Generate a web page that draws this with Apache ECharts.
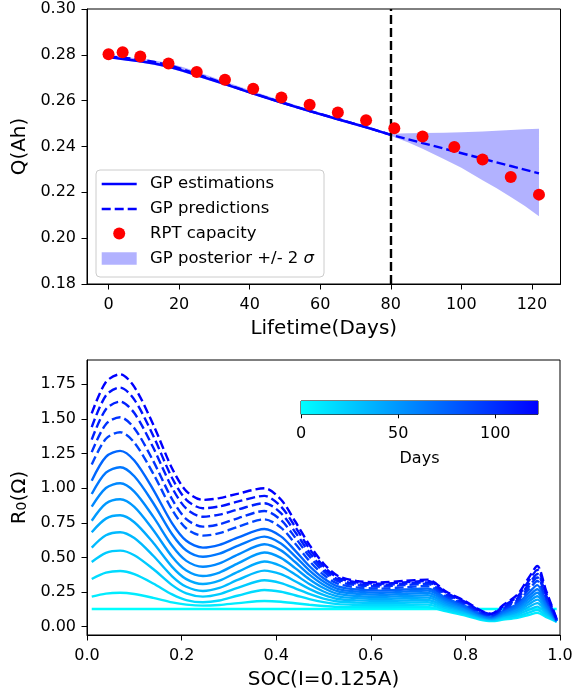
<!DOCTYPE html>
<html><head><meta charset="utf-8">
<script src="https://cdn.jsdelivr.net/npm/echarts@6/dist/echarts.min.js"></script>
<style>html,body{margin:0;padding:0;background:#fff}#c{width:576px;height:693px}</style>
</head><body><div id="c"></div>
<script>
// ---------- top panel: capacity ----------
const rptDays = [0,4,9,17,25,33,41,49,57,65,73,81,89,98,106,114,122];
const rptCap  = [0.2803,0.2811,0.2793,0.2762,0.2725,0.2691,0.2652,0.2614,0.2582,0.2548,0.2515,0.2480,0.2444,0.2398,0.2343,0.2267,0.2190];
const estDays = [0,4,9,13,17,21,25,33,41,49,57,65,73,80];
const estCap  = [0.2790,0.2782,0.2772,0.2762,0.2749,0.2731,0.2712,0.2672,0.2631,0.2592,0.2554,0.2519,0.2484,0.2451];
const predDays = [0,4,9,13,17,21,25,33,41,49,57,65,73,80,89,98,106,114,122];
const predCap  = [0.2793,0.2788,0.2780,0.2769,0.2756,0.2737,0.2716,0.2674,0.2632,0.2593,0.2555,0.2520,0.2485,0.2451,0.2415,0.2379,0.2347,0.2315,0.2283];
const bandDays = [0,4,9,13,17,21,25,33,41,49,57,65,73,80,85,89,95,100,106,110,114,118,122];
const bandLow  = [0.2786,0.2778,0.2767,0.2756,0.2743,0.2725,0.2706,0.2666,0.2626,0.2587,0.2549,0.2514,0.2479,0.2447,0.2418,0.2390,0.2346,0.2307,0.2253,0.2218,0.2180,0.2140,0.2096];
const bandHigh = [0.2797,0.2791,0.2784,0.2775,0.2764,0.2747,0.2727,0.2684,0.2641,0.2601,0.2562,0.2526,0.2490,0.2456,0.2458,0.2459,0.2460,0.2462,0.2466,0.2469,0.2472,0.2475,0.2478];
const splitDay = 80;
const topXTicks = [0,20,40,60,80,100,120];
const topYTicks = [0.18,0.20,0.22,0.24,0.26,0.28,0.30];
const legendLabels = ['GP estimations','GP predictions','RPT capacity','GP posterior +/- 2 '];
const legendSigma = 'σ';

// ---------- bottom panel: R0 vs SOC ----------
const soc = [0.01,0.04,0.07,0.10,0.14,0.18,0.21,0.245,0.28,0.32,0.375,0.41,0.44,0.47,0.50,0.53,0.57,0.62,0.67,0.72,0.76,0.80,0.83,0.855,0.88,0.91,0.935,0.952,0.97,0.993];
const r0Day0   = [0.128,0.128,0.128,0.128,0.128,0.128,0.128,0.128,0.128,0.128,0.128,0.128,0.128,0.128,0.128,0.128,0.128,0.128,0.128,0.128,0.128,0.128,0.128,0.128,0.128,0.128,0.128,0.128,0.128,0.128];
const r0Day9   = [.217,.239,.245,.236,.208,.175,.159,.152,.157,.170,.185,.180,.169,.158,.149,.143,.141,.140,.141,.142,.110,.080,.052,.040,.051,.064,.086,.100,.071,.035];
const r0Day17  = [.344,.390,.402,.379,.312,.233,.192,.176,.189,.225,.265,.252,.227,.199,.177,.163,.158,.155,.157,.159,.122,.089,.058,.045,.059,.075,.103,.120,.082,.036];
const r0Day25  = [.467,.533,.549,.516,.416,.300,.240,.217,.235,.282,.335,.315,.277,.236,.203,.182,.174,.170,.173,.176,.134,.098,.064,.050,.067,.088,.123,.145,.096,.037];
const r0Day33  = [.571,.660,.682,.640,.512,.364,.288,.258,.280,.339,.405,.379,.328,.273,.229,.200,.190,.185,.189,.193,.146,.107,.071,.055,.076,.101,.144,.170,.111,.038];
const r0Day41  = [.682,.780,.804,.754,.606,.432,.343,.308,.332,.397,.470,.438,.376,.308,.254,.219,.206,.200,.205,.210,.157,.115,.075,.058,.083,.113,.164,.195,.125,.039];
const r0Day49  = [.765,.889,.920,.865,.698,.505,.405,.366,.391,.459,.535,.497,.423,.343,.279,.237,.222,.215,.221,.227,.169,.123,.080,.062,.090,.125,.184,.220,.139,.040];
const r0Day57  = [.866,1.001,1.035,.975,.794,.584,.475,.433,.457,.522,.595,.551,.467,.376,.303,.256,.238,.230,.237,.244,.181,.132,.086,.066,.098,.138,.204,.245,.153,.041];
const r0Day65  = [.958,1.112,1.151,1.086,.893,.667,.550,.505,.527,.585,.650,.601,.508,.407,.326,.273,.253,.245,.253,.260,.193,.140,.091,.070,.106,.150,.224,.270,.167,.042];
const r0Day73  = [1.054,1.226,1.269,1.199,.990,.746,.620,.571,.591,.645,.705,.652,.549,.438,.349,.291,.268,.260,.268,.276,.204,.148,.096,.074,.115,.164,.248,.300,.184,.043];
const r0Day89  = [1.170,1.357,1.404,1.329,1.105,.844,.709,.657,.675,.722,.775,.715,.600,.475,.375,.310,.284,.275,.284,.293,.216,.157,.102,.078,.123,.179,.272,.330,.202,.045];
const r0Day98  = [1.260,1.462,1.512,1.433,1.196,.920,.777,.722,.739,.784,.835,.770,.644,.508,.399,.328,.300,.290,.300,.309,.228,.165,.107,.082,.131,.191,.292,.355,.216,.047];
const r0Day106 = [1.350,1.570,1.625,1.542,1.293,1.002,.852,.794,.809,.847,.891,.820,.684,.536,.418,.341,.310,.300,.310,.320,.236,.172,.112,.086,.139,.204,.312,.380,.232,.050];
const r0Day114 = [1.440,1.669,1.726,1.639,1.378,1.073,.916,.855,.868,.904,.944,.868,.722,.564,.437,.354,.320,.310,.320,.330,.244,.178,.116,.090,.148,.218,.336,.410,.249,.053];
const r0Day122 = [1.540,1.766,1.822,1.731,1.459,1.142,.979,.915,.928,.961,.999,.918,.761,.592,.456,.368,.330,.320,.330,.340,.252,.184,.121,.094,.156,.232,.359,.438,.266,.056];
const curveDays = [0,9,17,25,33,41,49,57,65,73,89,98,106,114,122];
const curveValues = [r0Day0,r0Day9,r0Day17,r0Day25,r0Day33,r0Day41,r0Day49,r0Day57,r0Day65,r0Day73,r0Day89,r0Day98,r0Day106,r0Day114,r0Day122];
const botXTicks = [0,0.2,0.4,0.6,0.8,1.0];
const botYTicks = [0,0.25,0.5,0.75,1.0,1.25,1.5,1.75];
const cbMin = 0, cbMax = 122;
const cbTicks = [0,50,100];

// ---------- build ----------
const FONT = 'DejaVu Sans';
const BLUE = '#0000ff';
const DASH = [9,4];
function zip(a,b){ return a.map((v,i)=>[v,b[i]]); }
function dayColor(d){
  const t = (d - cbMin)/(cbMax - cbMin);
  const g = Math.round(255*(1-t));
  return 'rgb(0,' + g + ',255)';
}
function axisCommon(ticks, fmt, extra){
  return Object.assign({
    type:'value', splitLine:{show:false},
    axisLine:{show:true, onZero:false, lineStyle:{color:'#000', width:1}},
    axisTick:{show:true, customValues:ticks, length:5.5, inside:false, lineStyle:{color:'#000', width:1}},
    axisLabel:{customValues:ticks, formatter:fmt, color:'#000', fontSize:16, fontFamily:FONT},
    nameTextStyle:{color:'#000', fontSize:20, fontFamily:FONT}
  }, extra);
}

const series = [];
// band
series.push({
  type:'custom', xAxisIndex:0, yAxisIndex:0, z:1, silent:true,
  data: bandDays.map((d,i)=>[d, bandLow[i], bandHigh[i]]),
  encode:{x:0, y:[1,2]},
  renderItem:function(params, api){
    if (params.dataIndex !== 0) return null;
    const pts = [];
    for (let i=0;i<bandDays.length;i++) pts.push(api.coord([bandDays[i], bandHigh[i]]));
    for (let i=bandDays.length-1;i>=0;i--) pts.push(api.coord([bandDays[i], bandLow[i]]));
    return {type:'polygon', shape:{points:pts}, style:{fill:'rgba(0,0,255,0.3)'}};
  }
});
series.push({
  type:'line', xAxisIndex:0, yAxisIndex:0, z:3, data:zip(predDays,predCap),
  symbol:'none', lineStyle:{color:BLUE, width:2.4, type:DASH}, itemStyle:{color:BLUE}
});
series.push({
  type:'line', xAxisIndex:0, yAxisIndex:0, z:4, data:zip(estDays,estCap),
  symbol:'none', lineStyle:{color:BLUE, width:2.4}, itemStyle:{color:BLUE},
  markLine:{silent:true, symbol:['none','none'], label:{show:false},
    lineStyle:{color:'#000', width:2.4, type:DASH}, emphasis:{disabled:true},
    data:[{xAxis:splitDay}]}
});
series.push({
  type:'scatter', xAxisIndex:0, yAxisIndex:0, z:6, data:zip(rptDays,rptCap),
  symbol:'circle', symbolSize:12, itemStyle:{color:'#ff0000', opacity:1}
});
// R0 curves
curveDays.forEach((d, k)=>{
  const col = dayColor(d);
  series.push({
    type:'line', xAxisIndex:1, yAxisIndex:1, z:2+k, data:zip(soc, curveValues[k]),
    symbol:'none', smooth:0.3,
    lineStyle:{color:col, width:2.4, type: d > splitDay ? DASH : 'solid'},
    itemStyle:{color:col}
  });
});
// colorbar
series.push({
  type:'custom', xAxisIndex:2, yAxisIndex:2, silent:true, data:[[cbMin,0],[cbMax,1]],
  renderItem:function(params, api){
    if (params.dataIndex !== 0) return null;
    const p0 = api.coord([cbMin,1]), p1 = api.coord([cbMax,0]);
    return {type:'rect', shape:{x:p0[0], y:p0[1], width:p1[0]-p0[0], height:p1[1]-p0[1]},
      style:{fill:new echarts.graphic.LinearGradient(0,0,1,0,[{offset:0,color:dayColor(cbMin)},{offset:1,color:dayColor(cbMax)}])}};
  }
});

// legend drawn as graphic
const LX = 96, LY = 170;
const rowY = [184, 209, 233.5, 258.5];
const legendEls = [
  {type:'rect', shape:{x:LX, y:LY, width:228, height:107, r:4}, style:{fill:'rgba(255,255,255,0.8)', stroke:'#cccccc', lineWidth:1}},
  {type:'line', shape:{x1:101.7, y1:rowY[0], x2:136.7, y2:rowY[0]}, style:{stroke:BLUE, lineWidth:2.4}},
  {type:'line', shape:{x1:101.7, y1:rowY[1], x2:136.7, y2:rowY[1]}, style:{stroke:BLUE, lineWidth:2.4, lineDash:DASH}},
  {type:'circle', shape:{cx:119.2, cy:rowY[2], r:6}, style:{fill:'#ff0000'}},
  {type:'rect', shape:{x:101.7, y:rowY[3]-6.2, width:35, height:12.4}, style:{fill:'rgba(0,0,255,0.3)'}}
];
legendLabels.forEach((t,i)=>{
  const isLast = i === legendLabels.length-1;
  legendEls.push({type:'text', x:150, y:rowY[i], style:{
    text: isLast ? '{n|' + t + '}{s|' + legendSigma + '}' : t,
    fontSize:16.5, fontFamily:FONT, fill:'#000', verticalAlign:'middle', align:'left',
    rich: isLast ? {n:{fontSize:16.5, fontFamily:FONT, fill:'#000'}, s:{fontSize:16.5, fontFamily:FONT, fontStyle:'italic', fill:'#000'}} : undefined
  }});
});

const option = {
  animation:false,
  backgroundColor:'#ffffff',
  textStyle:{fontFamily:FONT},
  grid:[
    {left:87, top:9, width:473.5, height:275, show:true, borderColor:'#000', borderWidth:1, backgroundColor:'transparent', containLabel:false, outerBoundsMode:'none'},
    {left:87, top:360, width:473, height:275, show:true, borderColor:'#000', borderWidth:1, backgroundColor:'transparent', containLabel:false, outerBoundsMode:'none'},
    {left:301, top:401, width:237, height:13.3, show:true, borderColor:'#000', borderWidth:1, backgroundColor:'transparent', containLabel:false, outerBoundsMode:'none'}
  ],
  xAxis:[
    axisCommon(topXTicks, v=>String(Math.round(v)), {gridIndex:0, min:-6.1, max:128.1,
      name:'Lifetime(Days)', nameLocation:'middle', nameGap:35}),
    axisCommon(botXTicks, v=>v.toFixed(1), {gridIndex:1, min:0, max:1,
      name:'SOC(I=0.125A)', nameLocation:'middle', nameGap:35}),
    axisCommon(cbTicks, v=>String(Math.round(v)), {gridIndex:2, min:cbMin, max:cbMax,
      axisLine:{show:false}, name:'Days', nameLocation:'middle', nameGap:37,
      nameTextStyle:{color:'#000', fontSize:16, fontFamily:FONT}})
  ],
  yAxis:[
    axisCommon(topYTicks, v=>v.toFixed(2), {gridIndex:0, min:0.18, max:0.30,
      name:'Q(Ah)', nameLocation:'middle', nameGap:55}),
    axisCommon(botYTicks, v=>v.toFixed(2), {gridIndex:1, min:-0.06, max:1.925,
      name:'{r|R}{s|0}{r|(Ω)}', nameLocation:'middle', nameGap:54,
      nameTextStyle:{color:'#000', fontSize:20, fontFamily:FONT,
        rich:{r:{fontSize:20, fontFamily:FONT, color:'#000'}, s:{fontSize:14, fontFamily:FONT, color:'#000', verticalAlign:'bottom', lineHeight:10}}}}),
    {gridIndex:2, type:'value', min:0, max:1, show:false}
  ],
  series: series,
  graphic: legendEls.map(e=>Object.assign({z:200, silent:true}, e))
};
// adjust label margins
option.xAxis[0].axisLabel.margin = 13;
option.xAxis[1].axisLabel.margin = 13;
option.xAxis[2].axisLabel.margin = 12;
option.xAxis[2].axisTick.length = 4;
option.yAxis[0].axisLabel.margin = 11;
option.yAxis[1].axisLabel.margin = 11;

const chart = echarts.init(document.getElementById('c'), null, {renderer:'canvas'});
chart.setOption(option);
</script></body></html>
